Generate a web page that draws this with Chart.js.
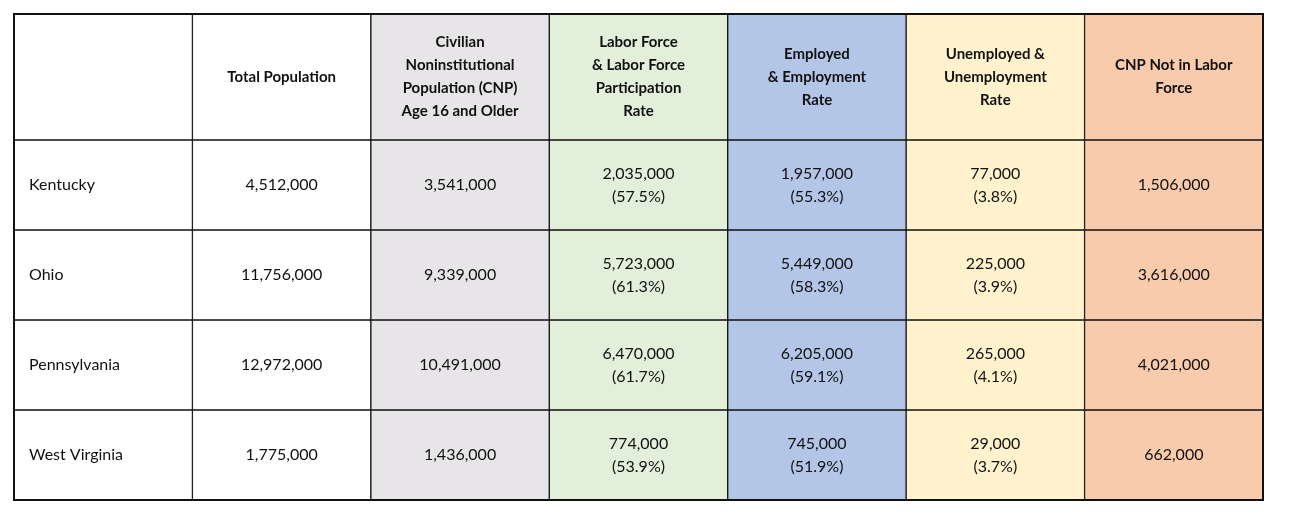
<!DOCTYPE html>
<html>
<head>
<meta charset="utf-8">
<script src="https://cdn.jsdelivr.net/npm/chart.js@4"></script>
<style>
  body { margin: 0; background: #fff; }
  #wrap { width: 1290px; height: 520px; }
</style>
</head>
<body>
<div id="wrap"><canvas id="table"></canvas></div>
<script>
const columns = ['State', 'Total Population', 'CNP', 'Labor Force', 'Employed', 'Unemployed', 'Not in LF'];
const headers = [
    [''],
    ['Total Population'],
    ['Civilian', 'Noninstitutional', 'Population (CNP)', 'Age 16 and Older'],
    ['Labor Force', '& Labor Force', 'Participation', 'Rate'],
    ['Employed', '& Employment', 'Rate'],
    ['Unemployed &', 'Unemployment', 'Rate'],
    ['CNP Not in Labor', 'Force']
];
const states = ['Kentucky', 'Ohio', 'Pennsylvania', 'West Virginia'];
const totalPop = ['4,512,000', '11,756,000', '12,972,000', '1,775,000'];
const cnp = ['3,541,000', '9,339,000', '10,491,000', '1,436,000'];
const laborForce = ['2,035,000', '5,723,000', '6,470,000', '774,000'];
const lfRate = ['57.5%', '61.3%', '61.7%', '53.9%'];
const employed = ['1,957,000', '5,449,000', '6,205,000', '745,000'];
const empRate = ['55.3%', '58.3%', '59.1%', '51.9%'];
const unemployed = ['77,000', '225,000', '265,000', '29,000'];
const unempRate = ['3.8%', '3.9%', '4.1%', '3.7%'];
const notInLF = ['1,506,000', '3,616,000', '4,021,000', '662,000'];
const columnColors = ['#ffffff', '#ffffff', '#e7e5e7', '#e2efda', '#b4c6e7', '#fff2cc', '#f8cbad'];

// row extents in table units: header is taller than data rows
const headerHeight = 1.4;
const rowSpans = [[0, headerHeight]].concat(states.map((s, i) => [headerHeight + i, headerHeight + i + 1]));

const cellText = [headers].concat(states.map((s, i) => [
    [s], [totalPop[i]], [cnp[i]],
    [laborForce[i], '(' + lfRate[i] + ')'],
    [employed[i], '(' + empRate[i] + ')'],
    [unemployed[i], '(' + unempRate[i] + ')'],
    [notInLF[i]]
]));

const datasets = rowSpans.map((span, r) => ({
    label: r === 0 ? 'header' : states[r - 1],
    data: columns.map(() => span),
    backgroundColor: columnColors,
    borderColor: '#111',
    borderWidth: 1,
    borderSkipped: false,
    grouped: false,
    categoryPercentage: 1,
    barPercentage: 1
}));

const cellTextPlugin = {
    id: 'cellText',
    afterDatasetsDraw(chart) {
        const ctx = chart.ctx;
        ctx.save();
        ctx.fillStyle = '#111';
        ctx.textBaseline = 'middle';
        chart.data.datasets.forEach((ds, r) => {
            const meta = chart.getDatasetMeta(r);
            meta.data.forEach((bar, c) => {
                const lines = cellText[r][c];
                const isHeader = r === 0;
                ctx.font = (isHeader ? 'bold 15px' : '16px') + ' Lato, sans-serif';
                const lh = isHeader ? 23 : 23;
                const midY = (bar.y + bar.base) / 2;
                const startY = midY - (lines.length - 1) * lh / 2;
                let x = bar.x;
                if (c === 0 && !isHeader) {
                    ctx.textAlign = 'left';
                    x = bar.x - bar.width / 2 + 15;
                } else {
                    ctx.textAlign = 'center';
                }
                lines.forEach((t, k) => ctx.fillText(t, x, startY + k * lh));
            });
        });
        // thicker outer border
        const a = chart.chartArea;
        ctx.strokeStyle = '#111';
        ctx.lineWidth = 2;
        ctx.strokeRect(a.left, a.top, a.right - a.left, a.bottom - a.top);
        ctx.restore();
    }
};

new Chart(document.getElementById('table'), {
    type: 'bar',
    data: { labels: columns, datasets: datasets },
    options: {
        responsive: true,
        maintainAspectRatio: false,
        animation: false,
        layout: { padding: { left: 14, right: 27, top: 14, bottom: 20 } },
        scales: {
            x: { display: false },
            y: { display: false, min: 0, max: headerHeight + states.length, reverse: true }
        },
        plugins: { legend: { display: false }, tooltip: { enabled: false } }
    },
    plugins: [cellTextPlugin]
});
</script>
</body>
</html>
